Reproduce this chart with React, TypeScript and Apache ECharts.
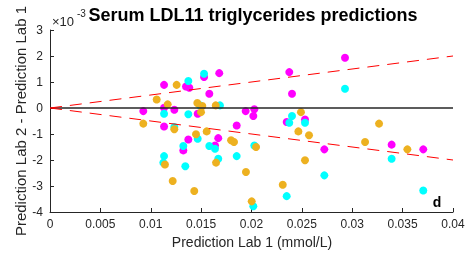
import React, { useEffect, useRef } from "react";
import * as echarts from "echarts";

// Prediction Lab 1 (mmol/L) vs difference (×10^-3)
const magentaX = [0.01132, 0.0135, 0.01383, 0.01529, 0.0168, 0.01581, 0.00926, 0.01132, 0.01234, 0.01466, 0.01942, 0.02028, 0.02018, 0.01853, 0.01132, 0.01373, 0.0167, 0.01323, 0.01638, 0.02375, 0.02402, 0.02349, 0.02531, 0.02928, 0.02723, 0.03391, 0.03705];
const magentaY = [0.89, 0.83, 0.78, 1.19, 1.34, 0.55, -0.12, 0.01, -0.07, -0.22, -0.12, -0.05, -0.31, -0.67, -0.71, -1.21, -1.16, -1.63, -1.44, 1.38, 0.55, -0.54, -0.44, 1.93, -1.59, -1.41, -1.59];

const cyanX = [0.01373, 0.01529, 0.01132, 0.01234, 0.0149, 0.01687, 0.01373, 0.01466, 0.01323, 0.01581, 0.01638, 0.02028, 0.01132, 0.01125, 0.0167, 0.01853, 0.01343, 0.02018, 0.02349, 0.02402, 0.02375, 0.02531, 0.02928, 0.02723, 0.03391, 0.03705];
const cyanY = [1.04, 1.32, -0.22, -0.73, 0.1, 0.1, -0.24, -1.18, -1.46, -1.46, -1.57, -1.44, -1.85, -2.1, -1.95, -1.85, -2.24, -3.78, -3.39, -0.31, -0.57, -0.57, 0.74, -2.59, -1.95, -3.17];

const orangeX = [0.01257, 0.01059, 0.01168, 0.00926, 0.01234, 0.01141, 0.01218, 0.01462, 0.01512, 0.01499, 0.01645, 0.01449, 0.01555, 0.01797, 0.01826, 0.02045, 0.01648, 0.01432, 0.01945, 0.02002, 0.0231, 0.02531, 0.02491, 0.02465, 0.02571, 0.03266, 0.03127, 0.03547];
const orangeY = [0.89, 0.33, 0.14, -0.6, -0.82, -2.17, -2.81, 0.19, 0.08, -0.16, 0.1, -1.01, -0.9, -1.24, -1.31, -1.5, -2.1, -3.19, -2.46, -3.59, -2.95, -2.01, -0.16, -0.9, -1.05, -0.6, -1.31, -1.59];

const zeroLine = [[0, 0], [0.04, 0]];
const upperLimit = [[0, 0], [0.04, 2]];
const lowerLimit = [[0, 0], [0.04, -2]];

const xMin = 0, xMax = 0.04, xStep = 0.005;
const yMin = -4, yMax = 3, yStep = 1;

const FONT = "'Liberation Sans', Arial, Helvetica, sans-serif";
const TXT = "#262626";

const zip = (xs: number[], ys: number[]) => xs.map((x, i) => [x, ys[i]]);

export default function App() {
  const ref = useRef<HTMLDivElement>(null);
  useEffect(() => {
    if (!ref.current) return;
    const chart = echarts.init(ref.current, null, { renderer: "svg" });
    const scatter = (name: string, data: number[][], color: string) => ({
      name,
      type: "scatter",
      data,
      symbolSize: 8,
      itemStyle: { color, opacity: 1 },
      z: 2,
    });
    const line = (data: number[][], color: string, width: number, dashed: boolean) => ({
      type: "line",
      data,
      symbol: "none",
      silent: true,
      lineStyle: { color, width, type: dashed ? [12, 8] : "solid" },
      z: 3,
    });
    chart.setOption({
      animation: false,
      grid: { left: 50, right: 15, top: 30, bottom: 45 },
      xAxis: {
        type: "value",
        min: xMin,
        max: xMax,
        interval: xStep,
        axisLine: { show: true, onZero: false, lineStyle: { color: TXT, width: 1 } },
        axisTick: { show: true, inside: true, length: 4, lineStyle: { color: TXT } },
        splitLine: { show: false },
        axisLabel: {
          color: TXT,
          fontSize: 12,
          fontFamily: FONT,
          margin: 6,
          formatter: (v: number) => String(+v.toFixed(3)),
        },
      },
      yAxis: {
        type: "value",
        min: yMin,
        max: yMax,
        interval: yStep,
        axisLine: { show: true, onZero: false, lineStyle: { color: TXT, width: 1 } },
        axisTick: { show: true, inside: true, length: 4, lineStyle: { color: TXT } },
        splitLine: { show: false },
        axisLabel: { color: TXT, fontSize: 12, fontFamily: FONT, margin: 7 },
      },
      series: [
        scatter("magenta", zip(magentaX, magentaY), "#FF00FF"),
        scatter("cyan", zip(cyanX, cyanY), "#00FFFF"),
        scatter("orange", zip(orangeX, orangeY), "#EDB120"),
        line(zeroLine, "#262626", 1.5, false),
        line(upperLimit, "#FF0000", 1, true),
        line(lowerLimit, "#FF0000", 1, true),
      ],
      graphic: [
        {
          type: "text",
          x: 253,
          y: 15,
          style: {
            text: "Serum LDL11 triglycerides predictions",
            fontSize: 18,
            fontWeight: "bold",
            fontFamily: FONT,
            fill: "#000",
            align: "center",
            verticalAlign: "middle",
          },
        },
        {
          type: "text",
          x: 52,
          y: 21,
          style: { text: "×10", fontSize: 13, fontFamily: FONT, fill: TXT, align: "left", verticalAlign: "middle" },
        },
        {
          type: "text",
          x: 77,
          y: 13,
          style: { text: "-3", fontSize: 10, fontFamily: FONT, fill: TXT, align: "left", verticalAlign: "middle" },
        },
        {
          type: "text",
          x: 252,
          y: 242,
          style: {
            text: "Prediction Lab 1 (mmol/L)",
            fontSize: 14,
            fontFamily: FONT,
            fill: TXT,
            align: "center",
            verticalAlign: "middle",
          },
        },
        {
          type: "text",
          x: 20,
          y: 121,
          rotation: Math.PI / 2,
          style: {
            text: "Prediction Lab 2 - Prediction Lab 1",
            fontSize: 15,
            fontFamily: FONT,
            fill: TXT,
            align: "center",
            verticalAlign: "middle",
          },
        },
        {
          type: "text",
          x: 437,
          y: 202,
          style: {
            text: "d",
            fontSize: 14,
            fontWeight: "bold",
            fontFamily: FONT,
            fill: "#000",
            align: "center",
            verticalAlign: "middle",
          },
        },
      ],
    });
    return () => chart.dispose();
  }, []);
  return <div ref={ref} style={{ position: "fixed", left: 0, top: 0, width: 468, height: 257 }} />;
}
